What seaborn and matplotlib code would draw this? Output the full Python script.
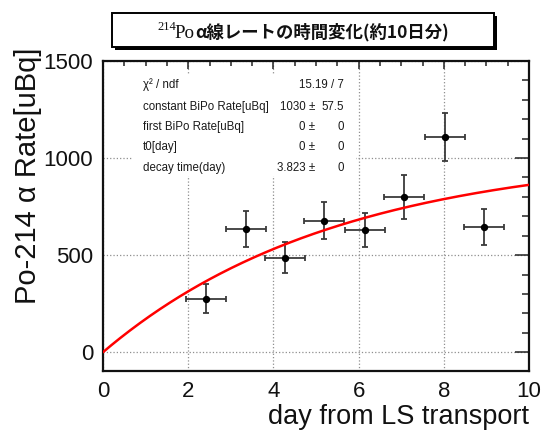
import numpy as np
import matplotlib
matplotlib.use('Agg')
import matplotlib.pyplot as plt
import seaborn as sns
from matplotlib.patches import Rectangle
from matplotlib.ticker import MultipleLocator

# measured points (day, rate) with errors
day = [2.41, 3.35, 4.27, 5.19, 6.14, 7.07, 8.03, 8.94]
day_err = [0.47, 0.47, 0.47, 0.47, 0.47, 0.47, 0.47, 0.47]
rate = [276, 635, 486, 678, 628, 800, 1108, 645]
rate_err = [75, 91, 80, 94, 88, 115, 124, 94]

# fit result shown in the stats box
fit_constant = 1030.0
fit_decay = 3.823

stat_names = ['χ² / ndf', 'constant BiPo Rate[uBq]', 'first BiPo Rate[uBq]',
              't0[day]', 'decay time(day)']
stat_values = ['', '1030 ±', '0 ±', '0 ±', '3.823 ±']
stat_errors = ['15.19 / 7', '57.5', '0', '0', '0']

title_sup = '214'
title_iso = 'Po'
title_rest = 'α線レートの時間変化(約10日分)'

sns.set_theme(style='white')
plt.rcParams['font.family'] = ['Liberation Sans', 'DejaVu Sans']

W, H = 544, 430
fig, ax = plt.subplots(figsize=(W / 100, H / 100), dpi=100)
fig.subplots_adjust(left=103/W, right=529/W, bottom=(H-371)/H, top=(H-61)/H)

ax.set_xlim(0, 10)
ax.set_ylim(-97, 1500)
ax.xaxis.set_major_locator(MultipleLocator(2))
ax.xaxis.set_minor_locator(MultipleLocator(0.5))
ax.yaxis.set_major_locator(MultipleLocator(500))
ax.yaxis.set_minor_locator(MultipleLocator(100))

ax.set_axisbelow(True)
ax.grid(True, which='major', ls=':', color='#8f8f8f', lw=0.9)

for s in ax.spines.values():
    s.set_linewidth(1.6)
    s.set_color('#111111')

ax.tick_params(which='both', direction='in', top=True, right=True,
               color='#222222', width=1.1, labelsize=16, pad=7,
               labelcolor='#111111')
ax.tick_params(axis='x', which='major', length=6)
ax.tick_params(axis='x', which='minor', length=3.3)
ax.tick_params(axis='y', which='major', length=10)
ax.tick_params(axis='y', which='minor', length=5)

# stats box (white, hides the grid)
ax.add_patch(Rectangle((0.068, 0.629), 0.526, 0.326, transform=ax.transAxes,
                       fc='white', ec='none', zorder=1))
rows_y = [0.923, 0.8525, 0.787, 0.7226, 0.656]
for yy, nm, val, err in zip(rows_y, stat_names, stat_values, stat_errors):
    ax.text(0.093, yy, nm, transform=ax.transAxes, ha='left', va='center',
            fontsize=8.3, color='#1a1a1a', zorder=5)
    ax.text(0.498, yy, val, transform=ax.transAxes, ha='right', va='center',
            fontsize=8.3, color='#1a1a1a', zorder=5)
    ax.text(0.566, yy, err, transform=ax.transAxes, ha='right', va='center',
            fontsize=8.3, color='#1a1a1a', zorder=5)

ax.errorbar(day, rate, xerr=day_err, yerr=rate_err, fmt='none',
            ecolor='#3a3a3a', elinewidth=1.3, capsize=2, capthick=1.3, zorder=3)

t = np.linspace(0, 10, 300)
fit = fit_constant * (1 - 2 ** (-t / fit_decay))
sns.lineplot(x=t, y=fit, color='red', lw=1.8, ax=ax, zorder=4)

sns.scatterplot(x=day, y=rate, color='black', s=28, edgecolor='black',
                linewidth=0, zorder=5, ax=ax)

ax.set_xlabel('day from LS transport', fontsize=19.5, loc='right', color='#111111')
ax.xaxis.set_label_coords(1.0, -0.108)
ax.set_ylabel('Po-214 α Rate[uBq]', fontsize=21, loc='top', color='#111111')
ax.yaxis.set_label_coords(-0.143, 1.042)

# title box with shadow
fig.patches.append(Rectangle((114.5/W, (H-49.5)/H), 382/W, 34/H,
                             transform=fig.transFigure, fc='black', ec='none'))
fig.patches.append(Rectangle((112/W, (H-47)/H), 382/W, 34/H,
                             transform=fig.transFigure, fc='white', ec='black', lw=1.4))
fig.text(157/W, (H-30)/H, title_sup, ha='left', va='baseline', fontsize=9,
         family='Liberation Serif', color='#111111')
fig.text(174/W, (H-38)/H, title_iso, ha='left', va='baseline', fontsize=13.7,
         family='Liberation Serif', color='#111111')
fig.text(195/W, (H-37.5)/H, title_rest, ha='left', va='baseline', fontsize=12.5,
         fontweight='bold', family=['Noto Sans CJK JP', 'DejaVu Sans'], color='#111111')

fig.savefig('out.png', dpi=100)
